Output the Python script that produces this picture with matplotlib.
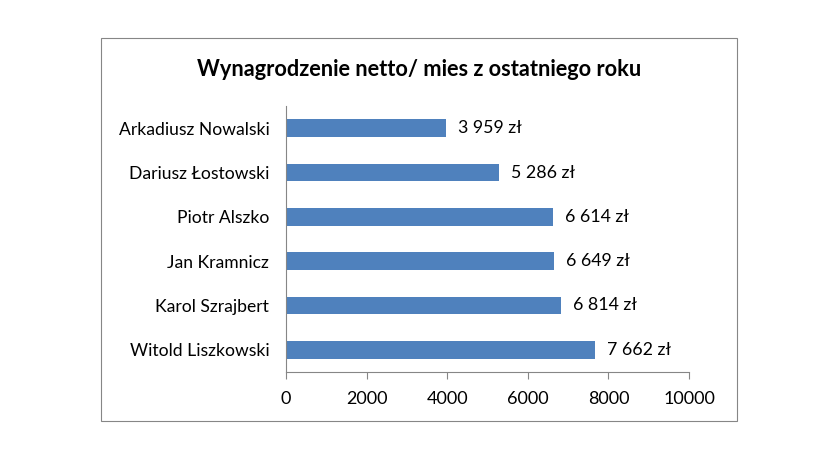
import matplotlib.pyplot as plt
from matplotlib.patches import Rectangle

# dane z wykresu (od gory do dolu)
nazwiska = ["Arkadiusz Nowalski", "Dariusz Łostowski", "Piotr Alszko",
            "Jan Kramnicz", "Karol Szrajbert", "Witold Liszkowski"]
wynagrodzenia = [3959, 5286, 6614, 6649, 6814, 7662]
ticki = [0, 2000, 4000, 6000, 8000, 10000]
tytul = "Wynagrodzenie netto/ mies z ostatniego roku"

plt.rcParams['font.family'] = ['Lato', 'DejaVu Sans']

fig = plt.figure(figsize=(8.4, 4.54), dpi=100)
fig.patch.set_facecolor("white")

# ramka wykresu
fig.add_artist(Rectangle((101/840, 1 - 421/454), 636/840, 383/454,
                         transform=fig.transFigure, fill=False,
                         edgecolor="#868686", linewidth=0.8))

ax = fig.add_axes([286/840, 1 - 372/454, 403/840, 266/454])
poz = range(len(nazwiska))
ax.barh(poz, wynagrodzenia, height=0.4, color="#4F81BD")
ax.set_ylim(len(nazwiska) - 0.5, -0.5)
ax.set_xlim(0, 10000)
ax.set_xticks(ticki)
ax.set_xticklabels([str(t) for t in ticki], fontsize=13)
ax.set_yticks(list(poz))
ax.set_yticklabels(nazwiska, fontsize=12.6)
ax.tick_params(axis="y", length=0, pad=12)
ax.tick_params(axis="x", length=5, color="#868686", pad=9)

for s in ["top", "right"]:
    ax.spines[s].set_visible(False)
for s in ["left", "bottom"]:
    ax.spines[s].set_color("#868686")
    ax.spines[s].set_linewidth(0.8)

for i, v in enumerate(wynagrodzenia):
    etykieta = f"{v:,}".replace(",", " ") + " zł"
    ax.text(v + 300, i, etykieta, va="center", ha="left", fontsize=12.8)

fig.text(419/840, 1 - 70/454, tytul, ha="center", va="center",
         fontsize=15.7, fontweight="bold")

fig.savefig("out.png", dpi=100)
